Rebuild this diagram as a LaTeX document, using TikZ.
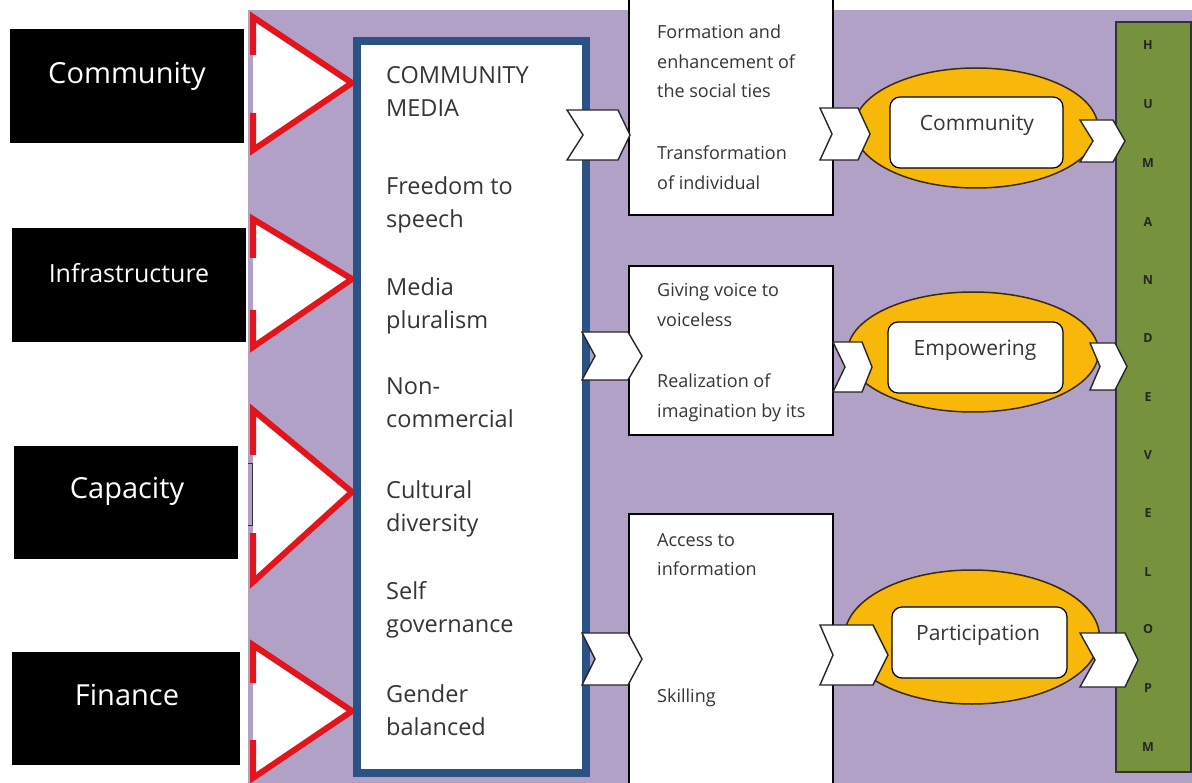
\documentclass[tikz,border=0pt]{standalone}
\usepackage{fontspec}
\setmainfont{Open Sans}
\usetikzlibrary{shapes.geometric}
\definecolor{bgpurple}{HTML}{B2A1C7}
\definecolor{mblue}{HTML}{2B5285}
\definecolor{redline}{HTML}{E3141B}
\definecolor{gold}{HTML}{F7B80A}
\definecolor{dgreen}{HTML}{76923C}
\definecolor{txt}{HTML}{353535}
\definecolor{ellline}{HTML}{3B2A12}
\newcommand{\chevron}[6]{%
  \draw[chevst] (#1,#5) -- (#3,#5) -- (#4,{(#5+#6)/2}) -- (#3,#6) -- (#1,#6) -- (#2,{(#5+#6)/2}) -- cycle;}
\newcommand{\redtri}[5]{%
  \fill[white] (253,#1) -- (352,#2) -- (253,#3) -- cycle;
  \draw[redst] (253,#4) -- (253,#1) -- (352,#2) -- (253,#3) -- (253,#5);}
\begin{document}
\begin{tikzpicture}[x=1pt,y=-1pt,
  blackbox/.style={fill=black, inner sep=0pt},
  btitle/.style={text=white, inner sep=0pt},
  redst/.style={draw=redline, line width=6pt, line join=miter},
  chevst/.style={fill=white, draw=black!85, line width=1.4pt, line join=miter},
  midbox/.style={draw=black, line width=1.3pt, fill=white, inner sep=0pt},
  mtext/.style={anchor=base west, align=left, text=txt, inner sep=0pt, font=\fontsize{23.5}{33}\selectfont},
  btext/.style={anchor=base west, align=left, text=txt, inner sep=0pt, font=\fontsize{18}{29.5}\selectfont},
  ell/.style={ellipse, draw=ellline, line width=1.5pt, fill=gold, inner sep=0pt},
  innerbox/.style={draw=black, line width=1.2pt, fill=white, rounded corners=10pt, inner sep=0pt},
  etext/.style={text=txt, inner sep=0pt, font=\fontsize{21}{24}\selectfont},
  letter/.style={inner sep=0pt, text=black!85, font=\fontsize{12.5}{13}\selectfont\bfseries}
]
\useasboundingbox (0,0) rectangle (1192,783);
\fill[bgpurple] (248,10) rectangle (1192,783);

% black boxes
\node[blackbox, minimum width=234pt, minimum height=114pt] (bcomm) at (127,86) {};
\node[blackbox, minimum width=234pt, minimum height=114pt] (binfra) at (129,285) {};
\node[blackbox, minimum width=224pt, minimum height=113pt] (bcap) at (126,502.5) {};
\node[blackbox, minimum width=228pt, minimum height=113pt] (bfin) at (126,708.5) {};
\node[btitle, font=\fontsize{29}{31}\selectfont] (tcomm) at (127,76) {Community};
\node[btitle, font=\fontsize{25}{28}\selectfont] (tinfra) at (129,273) {Infrastructure};
\node[btitle, font=\fontsize{29}{31}\selectfont] (tcap) at (127,491) {Capacity};
\node[btitle, font=\fontsize{29}{31}\selectfont] (tfin) at (127,695) {Finance};

% red triangles
\redtri{17}{83}{150}{55}{113}
\redtri{219}{279}{347}{258}{310}
\redtri{410}{492}{582}{455}{533}
\redtri{645}{711}{778}{683}{740}
\draw[black!80, line width=0.9pt] (248,463) -- (252,463) -- (252,525) -- (248,525);

% community media box
\node[draw=mblue, line width=8pt, fill=white, minimum width=229pt, minimum height=732pt, inner sep=0pt] (media) at (471.5,407) {};
\node[mtext] (m1) at (386,117) {COMMUNITY\\MEDIA};
\node[mtext] (m2) at (386,228) {Freedom to\\speech};
\node[mtext] (m3) at (386,329) {Media\\pluralism};
\node[mtext] (m4) at (386,428) {Non-\\commercial};
\node[mtext] (m5) at (386,531) {Cultural\\diversity};
\node[mtext] (m6) at (386,632) {Self\\governance};
\node[mtext] (m7) at (386,735) {Gender\\balanced};

% middle boxes
\node[midbox, minimum width=204pt, minimum height=225pt] (box1) at (731,102.5) {};
\node[midbox, minimum width=204pt, minimum height=169pt] (box2) at (731,350.5) {};
\node[midbox, minimum width=204pt, minimum height=276pt] (box3) at (731,652) {};
\node[btext] (t1a) at (657,98) {Formation and\\enhancement of\\the social ties};
\node[btext] (t1b) at (657,189.5) {Transformation\\of individual};
\node[btext] (t2a) at (657,326.5) {Giving voice to\\voiceless};
\node[btext] (t2b) at (657,417.5) {Realization of\\imagination by its};
\node[btext] (t3a) at (657,575.5) {Access to\\information};
\node[btext] (t3b) at (657,702) {Skilling};

% green bar
\node[draw=black!80, line width=1.5pt, fill=dgreen, minimum width=75pt, minimum height=750pt, inner sep=0pt] (bar) at (1153.5,397) {};
\foreach \l/\y [count=\i] in {H/45,U/104,M/163,A/222,N/280,D/338,E/397,V/455,E/513,L/572,O/629,P/688,M/747}
  \node[letter] (hd\i) at (1148,\y) {\l};

% ellipses
\node[ell, minimum width=244pt, minimum height=120pt] (e1) at (976,128) {};
\node[ell, minimum width=251pt, minimum height=120pt] (e2) at (973,352) {};
\node[ell, minimum width=255pt, minimum height=134pt] (e3) at (972,637) {};
\node[innerbox, minimum width=173pt, minimum height=71pt] (r1) at (976.5,132.5) {};
\node[innerbox, minimum width=175pt, minimum height=71pt] (r2) at (975.5,357.5) {};
\node[innerbox, minimum width=175pt, minimum height=71pt] (r3) at (979.5,642.5) {};
\node[etext] (l1) at (977,125) {Community};
\node[etext] (l2) at (975,350) {Empowering};
\node[etext] (l3) at (978,635) {Participation};

% chevrons
\chevron{567}{583}{618}{630}{110}{160}
\chevron{820}{832}{858}{870}{108}{160}
\chevron{1080}{1093}{1113}{1125}{120}{162}
\chevron{582}{595}{628}{642}{332}{380}
\chevron{833}{845}{862}{872}{342}{392}
\chevron{1090}{1100}{1115}{1127}{343}{390}
\chevron{582}{595}{628}{642}{633}{685}
\chevron{820}{833}{873}{888}{625}{685}
\chevron{1080}{1095}{1125}{1138}{633}{687}
\end{tikzpicture}
\end{document}
